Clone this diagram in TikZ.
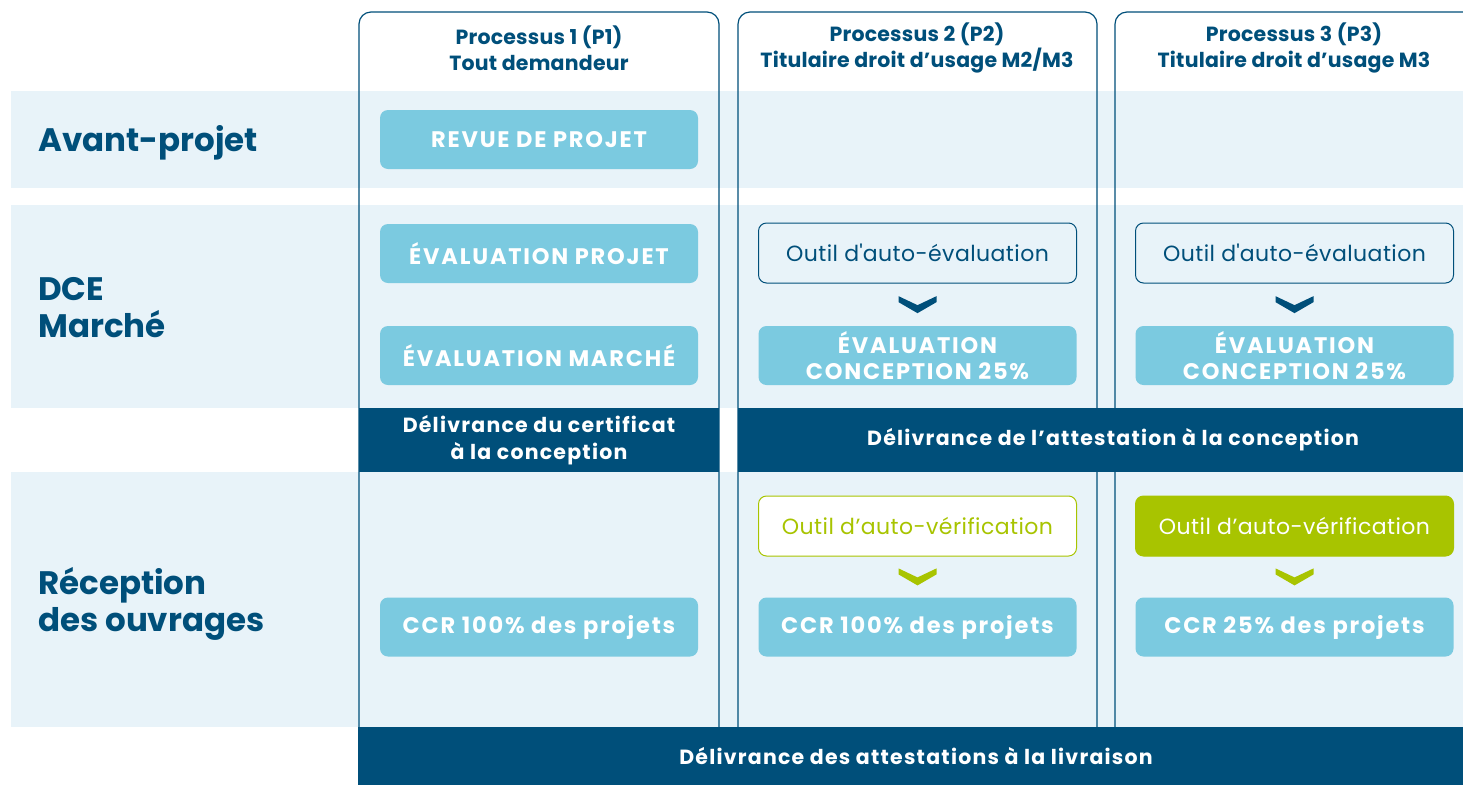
\documentclass[tikz,border=0pt]{standalone}
\usepackage{fontspec}
\setmainfont{Poppins}
\newfontfamily\capsfont[LetterSpace=8]{Poppins}
\newfontfamily\bandfont[LetterSpace=6]{Poppins}
\newfontfamily\toolfont[LetterSpace=2]{Poppins}
\newfontfamily\headfont[LetterSpace=1]{Poppins}
\usetikzlibrary{calc}
\definecolor{navy}{HTML}{004F7A}
\definecolor{bandblue}{HTML}{E8F3F9}
\definecolor{boxblue}{HTML}{7BCAE0}
\definecolor{leaf}{HTML}{A8C400}
\tikzset{
  colline/.style={draw=navy, line width=1.2pt, rounded corners=12pt},
  rowlabel/.style={anchor=west, align=left, text=navy, inner sep=0pt,
    font=\fontsize{32.5}{37}\selectfont\bfseries},
  headtext/.style={align=center, text=navy, inner sep=0pt,
    font=\headfont\fontsize{20.5}{26}\selectfont\bfseries},
  bluebox/.style={fill=boxblue, rounded corners=8pt, minimum width=318pt,
    minimum height=59pt, inner sep=0pt, align=center, text=white,
    font=\capsfont\fontsize{22.5}{26}\selectfont\bfseries},
  evalbox/.style={draw=navy, line width=1pt, rounded corners=8pt, minimum width=318pt,
    minimum height=60pt, inner sep=0pt, text=navy, font=\toolfont\fontsize{22}{24}\selectfont},
  verifbox/.style={draw=leaf, fill=white, line width=1pt, rounded corners=8pt,
    minimum width=318pt, minimum height=60pt, inner sep=0pt, text=leaf,
    font=\toolfont\fontsize{22}{24}\selectfont},
  verifdark/.style={verifbox, fill=leaf, text=white},
  darkband/.style={fill=navy, inner sep=0pt, align=center, text=white,
    font=\bandfont\fontsize{20.5}{27}\selectfont\bfseries},
}
% chevron between two nodes
\newcommand{\chev}[3]{%
  \fill[#1] ($(#2.south)!0.5!(#3.north)$) +(-19,-8.5) -- +(0,0.5) -- +(19,-8.5)
    -- +(19,-2.5) -- +(0,8.5) -- +(-19,-2.5) -- cycle;}

\begin{document}
\begin{tikzpicture}[x=1pt, y=-1pt]
   \useasboundingbox (0,0) rectangle (1463,785);
   \clip (0,0) rectangle (1463,785);

   % row bands
   \fill[bandblue] (11,91) rectangle (1463,188);
   \fill[bandblue] (11,205) rectangle (1463,408);
   \fill[bandblue] (11,472) rectangle (1463,727);

   % columns
   \draw[colline] (359,727) -- (359,12) -- (719,12) -- (719,727);
   \draw[colline] (738,727) -- (738,12) -- (1097,12) -- (1097,727);
   \draw[colline] (1115,727) -- (1115,12) -- (1478,12) -- (1478,727);

   \node[headtext] (h1) at (539,48) {Processus 1 (P1)\\Tout demandeur};
   \node[headtext] (h2) at (917,48) {Processus 2 (P2)\\Titulaire droit d’usage M2/M3};
   \node[headtext] (h3) at (1294,48) {Processus 3 (P3)\\Titulaire droit d’usage M3};

   % row labels
   \node[rowlabel] (avant) at (38,143) {Avant-projet};
   \node[rowlabel] (dce) at (38,308) {DCE\\Marché};
   \node[rowlabel] (recep) at (38,604) {Réception\\des ouvrages};

   % process 1
   \node[bluebox] (revue) at (539,139.5) {REVUE DE PROJET};
   \node[bluebox] (evproj) at (539,253.5) {ÉVALUATION PROJET};
   \node[bluebox] (evmarche) at (539,355.5) {ÉVALUATION MARCHÉ};
   \node[bluebox] (ccr1) at (539,627) {CCR 100\% des projets};

   % process 2
   \node[evalbox] (auto2) at (917.5,253) {Outil d\textquotesingle auto-évaluation};
   \node[bluebox] (conc2) at (917.5,355.5) {ÉVALUATION\\CONCEPTION 25\%};
   \node[verifbox] (verif2) at (917.5,526) {Outil d’auto-vérification};
   \node[bluebox] (ccr2) at (917.5,627) {CCR 100\% des projets};
   \chev{navy}{auto2}{conc2}
   \chev{leaf}{verif2}{ccr2}

   % process 3
   \node[evalbox] (auto3) at (1294.5,253) {Outil d\textquotesingle auto-évaluation};
   \node[bluebox] (conc3) at (1294.5,355.5) {ÉVALUATION\\CONCEPTION 25\%};
   \node[verifdark] (verif3) at (1294.5,526) {Outil d’auto-vérification};
   \node[bluebox] (ccr3) at (1294.5,627) {CCR 25\% des projets};
   \chev{navy}{auto3}{conc3}
   \chev{leaf}{verif3}{ccr3}

   % delivery bands
   \node[darkband, minimum width=360pt, minimum height=64pt] (cert) at (539,440)
      {Délivrance du certificat\\à la conception};
   \node[darkband, minimum width=750pt, minimum height=64pt] (attest) at (1113,440)
      {\raisebox{-2pt}{Délivrance de l’attestation à la conception}};
   \node[darkband, minimum width=1116pt, minimum height=58pt] (livr) at (916,756)
      {\raisebox{-1pt}{Délivrance des attestations à la livraison}};
\end{tikzpicture}
\end{document}
